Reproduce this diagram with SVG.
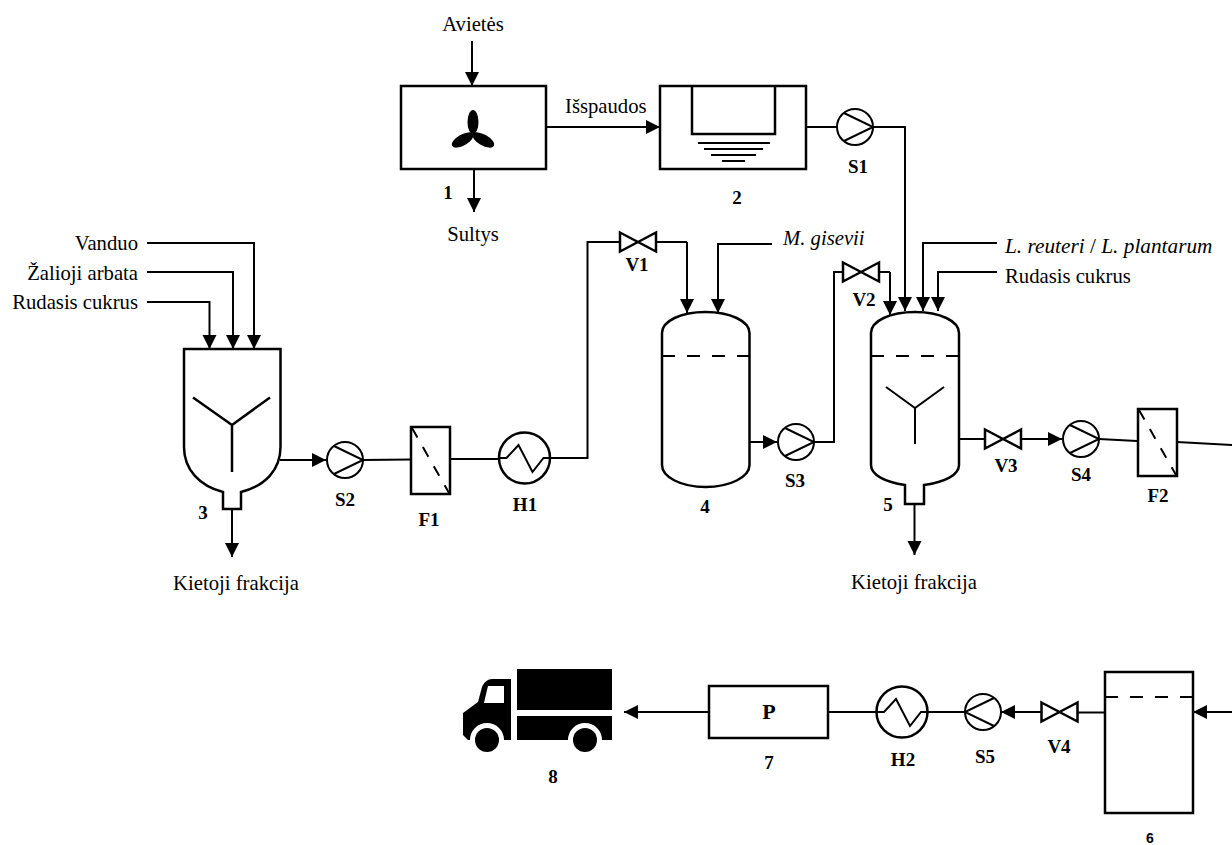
<svg xmlns="http://www.w3.org/2000/svg" width="1232" height="845" viewBox="0 0 1232 845">
<style>
text{font-family:"Liberation Serif","Times New Roman",serif;font-size:20.700px;fill:#000}
.b{font-weight:bold;font-size:19px;text-anchor:middle}
.m{text-anchor:middle}
.e{text-anchor:end}
.i{font-style:italic}
.s{fill:#fff;stroke:#000;stroke-width:2.500}
.n{fill:none;stroke:#000;stroke-width:2.500}
.t{fill:none;stroke:#000;stroke-width:2}
.d{fill:none;stroke:#000;stroke-width:2;stroke-dasharray:13 12}
.c path{fill:none;stroke:#000;stroke-width:2}
.a{marker-end:url(#ah)}
</style>
<defs>
<marker id="ah" markerUnits="userSpaceOnUse" markerWidth="15" markerHeight="15" refX="14" refY="7" orient="auto"><path d="M0 0L14 7L0 14Z" fill="#000"/></marker>
<g id="valve"><path d="M-18-9.500L18 9.500V-9.500L-18 9.500Z" class="s"/></g>
<g id="pump"><circle r="18" class="t" style="fill:#fff"/><path d="M-11-14L18 0L-11 14" class="t"/></g>
<g id="hx"><circle r="25.500" class="n" style="fill:#fff"/><path d="M-25.500 0H-18L-6-13L8 14L19 0H25.500" class="t"/></g>
<g id="filter"><rect x="-19.500" y="-33.500" width="39" height="67" class="n" style="fill:#fff"/><path d="M-18.500-32.500L18.500 32.500" class="d" style="stroke-dasharray:11 11"/></g>
</defs>

<g id="connectors" class="c">
<path class="a" d="M472 41V86"/>
<path class="a" d="M474 169V212"/>
<path class="a" d="M546 127H660"/>
<path d="M806 127H873"/>
<path class="a" d="M873 127H905V311"/>
<path class="a" d="M147 243H254V349"/>
<path class="a" d="M147 272H233V349"/>
<path class="a" d="M147 302H209.500V349"/>
<path class="a" d="M280 460H326"/>
<path d="M363 460L411 459.500"/>
<path d="M450 459H499"/>
<path d="M550 458H587.500V242H687"/>
<path class="a" d="M687 242V313"/>
<path class="a" d="M772 244H718V313"/>
<path class="a" d="M750 442H777"/>
<path d="M814 442H834V272H890"/>
<path class="a" d="M890 272V315"/>
<path class="a" d="M997 243H923V311"/>
<path class="a" d="M997 272H938V311"/>
<path class="a" d="M232 509V557"/>
<path class="a" d="M914.500 504V555"/>
<path d="M959 439H985"/>
<path class="a" d="M1021 439H1062"/>
<path d="M1099 439L1137 441"/>
<path d="M1177 442L1232 445"/>
<path class="a" d="M1232 712H1193"/>
<path d="M1105 712.500H1078"/>
<path class="a" d="M1041 712H1001"/>
<path d="M965 712H928"/>
<path d="M876 712H828"/>
<path class="a" d="M709 712H624"/>
</g>

<g id="node-1"><rect x="401" y="86" width="145" height="83" class="n"/>
<g><ellipse cx="473" cy="122" rx="5.500" ry="12"/><ellipse cx="473" cy="122" rx="5.500" ry="12" transform="rotate(120 473 134)"/><ellipse cx="473" cy="122" rx="5.500" ry="12" transform="rotate(240 473 134)"/></g>
<text class="b" x="448" y="199">1</text></g>

<g id="node-2"><rect x="660" y="86" width="146" height="83" class="n"/>
<path class="n" d="M692 86V134H775V86"/>
<path class="t" d="M698 143H770M704 149H763M711 155H756M722 161H745"/>
<text class="b" x="737" y="204">2</text></g>

<g id="node-3"><path class="n" d="M184 349V447C184 470 200 486 223 492V509H241V492C265 486 280.500 470 280.500 447V349Z"/>
<path class="n" d="M193 397.500L232 425L270 397.500M232 425V472"/>
<text class="b" x="203" y="519">3</text></g>

<g id="node-4"><path class="n" d="M662 333C662 321 681 312 705.500 312C730 312 749.500 321 749.500 333V465C749.500 477 730 487 705.500 487C681 487 662 477 662 465Z"/>
<path class="d" d="M662 356H749"/>
<text class="b" x="705" y="513">4</text></g>

<g id="node-5"><path class="n" d="M871 333C871 321 890 312 915 312C940 312 959 321 959 333V465C959 475 945 482 924 485V504H905V485C885 482 871 475 871 465Z"/>
<path class="d" d="M871 356H959"/>
<path class="t" d="M886 387L915 408L944 387M915 408V444"/>
<text class="b" x="888" y="511">5</text></g>

<g id="node-6"><rect x="1105" y="672" width="88" height="141" class="n"/>
<path class="d" d="M1105 697H1193"/>
<text x="1150" y="843" style="font-family:'Liberation Sans',Arial,sans-serif;font-weight:bold;font-size:14px;text-anchor:middle">6</text></g>

<g id="node-7"><rect x="709" y="686" width="119" height="52" class="n"/>
<text class="b" x="769" y="719" style="font-size:22px">P</text>
<text class="b" x="769" y="769">7</text></g>

<g id="node-8">
<rect x="517" y="669" width="95" height="41"/>
<rect x="517" y="716" width="95" height="24"/>
<path d="M463 713L478 702L482 687C484 682 488 679 492 679H511V740H468L463 735Z"/>
<path d="M488 686H504V703H484L487 690Z" fill="#fff"/>
<circle cx="487" cy="740" r="17" fill="#fff"/><circle cx="585" cy="740" r="17" fill="#fff"/>
<rect x="460" y="740" width="160" height="20" fill="#fff"/>
<circle cx="487" cy="740" r="12"/><circle cx="585" cy="740" r="12"/>
<text class="b" x="553" y="783">8</text></g>

<g id="S1"><use href="#pump" x="855" y="127"/><text class="b" x="858" y="173">S1</text></g>
<g id="S2"><use href="#pump" x="345" y="460"/><text class="b" x="345" y="506">S2</text></g>
<g id="S3"><use href="#pump" x="796" y="442"/><text class="b" x="795" y="487">S3</text></g>
<g id="S4"><use href="#pump" x="1081" y="439"/><text class="b" x="1081" y="481">S4</text></g>
<g id="S5"><use href="#pump" transform="translate(983 712) scale(-1 1)"/><text class="b" x="985" y="763">S5</text></g>
<g id="V1"><use href="#valve" x="638" y="242"/><text class="b" x="637" y="271">V1</text></g>
<g id="V2"><use href="#valve" x="861" y="272"/><text class="b" x="864" y="306">V2</text></g>
<g id="V3"><use href="#valve" x="1003" y="439"/><text class="b" x="1006" y="472">V3</text></g>
<g id="V4"><use href="#valve" x="1059.500" y="712"/><text class="b" x="1059" y="753">V4</text></g>
<g id="F1"><use href="#filter" x="430.500" y="460.500"/><text class="b" x="429" y="526">F1</text></g>
<g id="F2"><use href="#filter" x="1157.500" y="442.500"/><text class="b" x="1158" y="502">F2</text></g>
<g id="H1"><use href="#hx" x="524.500" y="458"/><text class="b" x="525" y="511">H1</text></g>
<g id="H2"><use href="#hx" x="902" y="712"/><text class="b" x="903" y="766">H2</text></g>

<g id="labels">
<text class="m" x="473" y="31">Avietės</text>
<text class="m" x="473" y="241">Sultys</text>
<text x="565" y="113">Išspaudos</text>
<text class="e" x="138" y="250">Vanduo</text>
<text class="e" x="138" y="280">Žalioji arbata</text>
<text class="e" x="138" y="309">Rudasis cukrus</text>
<text class="m" x="236" y="590">Kietoji frakcija</text>
<text class="m" x="914" y="589">Kietoji frakcija</text>
<text class="i" x="783" y="245">M. gisevii</text>
<text x="1005" y="253" style="font-size:21.300px"><tspan class="i">L. reuteri</tspan> / <tspan class="i">L. plantarum</tspan></text>
<text x="1005" y="283">Rudasis cukrus</text>
</g>
</svg>
